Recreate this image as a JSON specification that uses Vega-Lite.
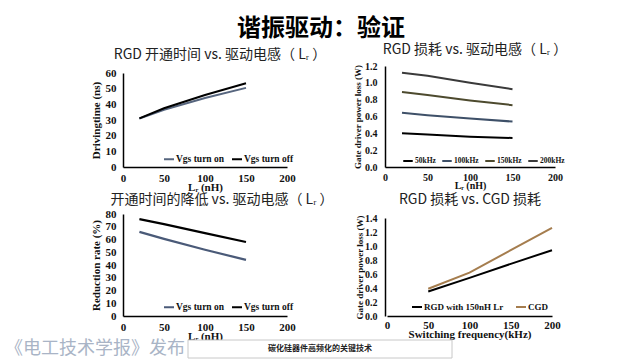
{
  "$schema": "https://vega.github.io/schema/vega-lite/v6.json",
  "background": "white",
  "padding": {"left": 5, "top": 17, "right": 5, "bottom": 0},
  "title": {"text": "谐振驱动：验证", "font": "Noto Sans CJK SC", "fontSize": 24, "fontWeight": "bold", "anchor": "start", "frame": "group", "dx": 114, "offset": 2, "color": "#000000"},
  "columns": 2,
  "bounds": "flush",
  "spacing": {"row": 24, "column": 98},
  "resolve": {"scale": {"color": "independent"}, "legend": {"color": "independent"}},
  "config": {
    "view": {"stroke": null},
    "axis": {"domainColor": "#000000", "domainWidth": 1.5, "ticks": false, "grid": false, "labelFont": "Liberation Serif", "labelFontWeight": "bold", "labelFontSize": 11, "labelColor": "#111111", "titleFont": "Liberation Serif", "titleFontWeight": "bold", "titleFontSize": 11, "titleColor": "#111111"},
    "axisX": {"labelPadding": 5, "titlePadding": -2, "labelFlush": false},
    "title": {"font": "Noto Sans CJK SC", "fontSize": 14, "fontWeight": "normal", "color": "#222222", "frame": "group", "anchor": "middle"},
    "legend": {"orient": "none", "direction": "horizontal", "symbolType": "stroke", "symbolStrokeWidth": 2, "symbolSize": 100, "labelFont": "Liberation Serif", "labelFontWeight": "bold", "labelFontSize": 9.5, "labelColor": "#111111", "columnPadding": 3, "labelOffset": 1, "padding": 0}
  },
  "datasets": {
    "tl": [
      {"L": 20, "s": "Vgs turn on", "v": 31}, {"L": 50, "s": "Vgs turn on", "v": 36.5}, {"L": 100, "s": "Vgs turn on", "v": 44}, {"L": 150, "s": "Vgs turn on", "v": 50.5},
      {"L": 20, "s": "Vgs turn off", "v": 31}, {"L": 50, "s": "Vgs turn off", "v": 37.5}, {"L": 100, "s": "Vgs turn off", "v": 46}, {"L": 150, "s": "Vgs turn off", "v": 53.5}
    ],
    "tr": [
      {"L": 20, "f": "50kHz", "p": 0.40}, {"L": 50, "f": "50kHz", "p": 0.385}, {"L": 100, "f": "50kHz", "p": 0.36}, {"L": 150, "f": "50kHz", "p": 0.345},
      {"L": 20, "f": "100kHz", "p": 0.645}, {"L": 50, "f": "100kHz", "p": 0.615}, {"L": 100, "f": "100kHz", "p": 0.575}, {"L": 150, "f": "100kHz", "p": 0.54},
      {"L": 20, "f": "150kHz", "p": 0.89}, {"L": 50, "f": "150kHz", "p": 0.855}, {"L": 100, "f": "150kHz", "p": 0.79}, {"L": 150, "f": "150kHz", "p": 0.735},
      {"L": 20, "f": "200kHz", "p": 1.12}, {"L": 50, "f": "200kHz", "p": 1.085}, {"L": 100, "f": "200kHz", "p": 1.0}, {"L": 150, "f": "200kHz", "p": 0.925}
    ],
    "bl": [
      {"L": 20, "s": "Vgs turn on", "r": 66}, {"L": 50, "s": "Vgs turn on", "r": 60.5}, {"L": 100, "s": "Vgs turn on", "r": 52}, {"L": 150, "s": "Vgs turn on", "r": 44},
      {"L": 20, "s": "Vgs turn off", "r": 76}, {"L": 50, "s": "Vgs turn off", "r": 72}, {"L": 100, "s": "Vgs turn off", "r": 65}, {"L": 150, "s": "Vgs turn off", "r": 58}
    ],
    "br": [
      {"fs": 50, "d": "RGD with 150nH Lr", "p": 0.35}, {"fs": 100, "d": "RGD with 150nH Lr", "p": 0.545}, {"fs": 150, "d": "RGD with 150nH Lr", "p": 0.745}, {"fs": 200, "d": "RGD with 150nH Lr", "p": 0.94},
      {"fs": 50, "d": "CGD", "p": 0.39}, {"fs": 100, "d": "CGD", "p": 0.62}, {"fs": 150, "d": "CGD", "p": 0.94}, {"fs": 200, "d": "CGD", "p": 1.26}
    ],
    "footer": [
      {"part": "source", "label": "《电工技术学报》发布"},
      {"part": "caption", "label": "碳化硅器件高频化的关键技术"}
    ]
  },
  "concat": [
    {
      "width": 164, "height": 101,
      "title": {"text": "RGD 开通时间 vs. 驱动电感（ Lᵣ ）", "dx": 15, "offset": 4},
      "data": {"name": "tl"},
      "mark": {"type": "line", "strokeWidth": 2},
      "encoding": {
        "x": {"field": "L", "type": "quantitative", "scale": {"domain": [0, 200], "nice": false}, "axis": {"values": [0, 50, 100, 150, 200], "title": "Lᵣ (nH)"}},
        "y": {"field": "v", "type": "quantitative", "scale": {"domain": [0, 60], "range": [101, 7], "nice": false}, "axis": {"values": [0, 10, 20, 30, 40, 50, 60], "title": "Drivingtime (ns)", "labelPadding": 7, "titlePadding": 4}},
        "color": {"field": "s", "type": "nominal", "scale": {"domain": ["Vgs turn on", "Vgs turn off"], "range": ["#56657e", "#000000"]}, "legend": {"title": null, "legendX": 40, "legendY": 87}}
      }
    },
    {
      "width": 170, "height": 101,
      "title": {"text": "RGD 损耗 vs. 驱动电感（ Lᵣ ）", "dx": 5, "offset": 4},
      "data": {"name": "tr"},
      "mark": {"type": "line", "strokeWidth": 2},
      "encoding": {
        "x": {"field": "L", "type": "quantitative", "scale": {"domain": [0, 200], "nice": false}, "axis": {"values": [0, 50, 100, 150, 200], "title": "Lᵣ (nH)", "labelFontSize": 10, "titleFontSize": 10}},
        "y": {"field": "p", "type": "quantitative", "scale": {"domain": [0, 1.2], "nice": false}, "axis": {"values": [0, 0.2, 0.4, 0.6, 0.8, 1, 1.2], "title": "Gate driver power loss (W)", "labelFontSize": 10, "titleFontSize": 9, "labelPadding": 8, "titlePadding": 2}},
        "color": {"field": "f", "type": "nominal", "scale": {"domain": ["50kHz", "100kHz", "150kHz", "200kHz"], "range": ["#000000", "#3e5068", "#4d4a2e", "#3a3a3a"]}, "legend": {"title": null, "legendX": 17, "legendY": 89, "labelFontSize": 7.5, "symbolSize": 90, "columnPadding": 2}}
      }
    },
    {
      "width": 164, "height": 125,
      "title": {"text": "开通时间的降低 vs. 驱动电感（ Lᵣ ）", "dx": 17, "dy": 20, "offset": 4},
      "data": {"name": "bl"},
      "mark": {"type": "line", "strokeWidth": 2.2},
      "encoding": {
        "x": {"field": "L", "type": "quantitative", "scale": {"domain": [0, 200], "nice": false}, "axis": {"values": [0, 50, 100, 150, 200], "title": "Lᵣ (nH)"}},
        "y": {"field": "r", "type": "quantitative", "scale": {"domain": [0, 80], "range": [125, 23], "nice": false}, "axis": {"values": [0, 10, 20, 30, 40, 50, 60, 70, 80], "title": "Reduction rate (%)", "labelPadding": 7, "titlePadding": 4}},
        "color": {"field": "s", "type": "nominal", "scale": {"domain": ["Vgs turn on", "Vgs turn off"], "range": ["#4a5a78", "#000000"]}, "legend": {"title": null, "legendX": 40, "legendY": 110}}
      }
    },
    {
      "width": 170, "height": 125,
      "title": {"text": "RGD 损耗 vs. CGD 损耗", "dy": 20, "offset": 4},
      "data": {"name": "br"},
      "mark": {"type": "line", "strokeWidth": 2},
      "encoding": {
        "x": {"field": "fs", "type": "quantitative", "scale": {"domain": [0, 200], "range": [2, 167], "nice": false}, "axis": {"values": [0, 50, 100, 150, 200], "title": "Switching  frequency(kHz)", "labelPadding": 3}},
        "y": {"field": "p", "type": "quantitative", "scale": {"domain": [0, 1.4], "range": [125, 27], "nice": false}, "axis": {"values": [0, 0.2, 0.4, 0.6, 0.8, 1, 1.2, 1.4], "title": "Gate driver power loss (W)", "labelFontSize": 10, "titleFontSize": 9, "labelPadding": 8, "titlePadding": 0}},
        "color": {"field": "d", "type": "nominal", "scale": {"domain": ["RGD with 150nH Lr", "CGD"], "range": ["#000000", "#a57d4e"]}, "legend": {"title": null, "legendX": 26, "legendY": 110, "labelFontSize": 9, "columnPadding": 8}}
      }
    },
    {
      "width": 164, "height": 18,
      "data": {"name": "footer"},
      "layer": [
        {
          "transform": [{"filter": "datum.part === 'caption'"}],
          "mark": {"type": "rect", "fill": "white", "stroke": "#c8c8c8", "strokeWidth": 1},
          "encoding": {
            "x": {"datum": 65, "type": "quantitative", "scale": {"domain": [0, 164], "nice": false, "zero": false}, "axis": null},
            "x2": {"datum": 329}
          }
        },
        {
          "transform": [{"filter": "datum.part === 'source'"}],
          "mark": {"type": "text", "align": "left", "baseline": "middle", "font": "Noto Sans CJK SC", "fontSize": 18, "color": "#a9b4c6"},
          "encoding": {
            "x": {"datum": -118, "type": "quantitative"},
            "text": {"field": "label"}
          }
        },
        {
          "transform": [{"filter": "datum.part === 'caption'"}],
          "mark": {"type": "text", "align": "center", "baseline": "middle", "font": "Noto Sans CJK SC", "fontSize": 8, "fontWeight": "bold", "color": "#222222"},
          "encoding": {
            "x": {"datum": 197, "type": "quantitative"},
            "text": {"field": "label"}
          }
        }
      ]
    }
  ]
}
